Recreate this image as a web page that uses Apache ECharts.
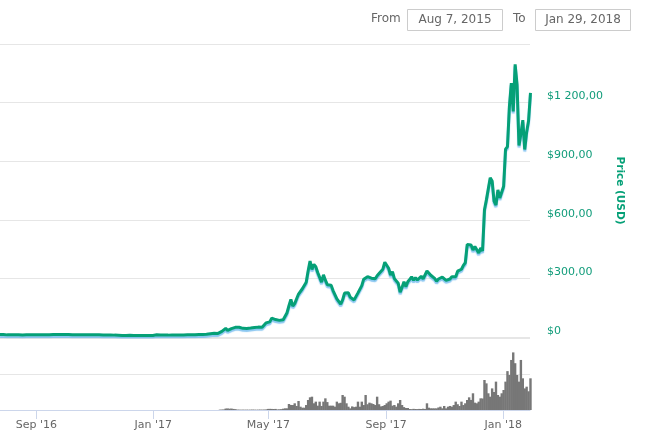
<!DOCTYPE html>
<html>
<head>
<meta charset="utf-8">
<script src="https://cdn.jsdelivr.net/npm/echarts@6/dist/echarts.min.js"></script>
<style>
html,body{margin:0;padding:0;background:#fff;}
#chart{width:645px;height:444px;}
</style>
</head>
<body>
<div id="chart"></div>
<script>
// ---- data ----
var rangeFrom = 'Aug 7, 2015';
var rangeTo = 'Jan 29, 2018';
var axisMin = [2016, 6, 25];
var axisMax = [2018, 0, 29];

var xTickDates = [[2016, 8, 1], [2017, 0, 1], [2017, 4, 1], [2017, 8, 1], [2018, 0, 1]];
var xTickLabels = ["Sep '16", "Jan '17", "May '17", "Sep '17", "Jan '18"];

var priceTickValues = [0, 300, 600, 900, 1200];
var priceTickLabels = ['$0', '$300,00', '$600,00', '$900,00', '$1 200,00'];

// price in USD, one value every 2 days starting 2016-07-24
var priceStart = [2016, 6, 24];
var priceStepDays = 2;
var priceUSD = [
12.9,12.9,12.9,12.5,10.9,10.5,11.0,10.9,12.0,11.7,11.6,11.2,10.8,10.6,11.2,11.0,11.3,11.4,11.2,11.9,
12.1,11.9,11.8,11.7,12.0,12.0,12.0,12.7,12.7,13.0,13.2,12.9,12.9,13.1,13.2,13.2,13.1,12.9,12.0,11.8,
11.8,12.0,12.0,12.6,12.0,12.0,11.6,11.4,11.5,11.1,10.9,11.0,11.0,10.9,10.6,10.4,10.0,10.0,10.0,9.6,
9.6,9.9,9.4,8.6,8.3,8.2,7.8,6.8,8.4,8.5,8.2,8.5,7.9,7.8,7.6,7.6,7.3,7.2,7.2,7.9,
8.0,8.4,11.0,10.2,10.2,10.5,9.8,9.8,9.6,10.2,10.6,10.8,10.5,10.6,10.5,10.7,10.8,11.3,11.3,11.4,
11.2,11.4,11.4,12.9,12.8,12.7,12.4,13.2,13.6,15.6,17.1,19.2,19.3,19.0,18.2,21.5,28.5,35.2,44.2,33.5,
42.5,43.0,50.6,49.5,52.0,50.0,48.6,44.4,43.2,44.1,43.7,46.0,48.0,48.3,49.9,50.6,48.3,49.9,53.2,72.2,
79.8,77.5,96.4,94.8,89.3,87.9,85.2,88.7,88.4,97.7,124.5,160,192,158,171,196,220,224,247,256,
280,338,389,346,372,360,330,323,281,318,291,268,278,265,238,236,195,200,168,190,
225,216,226,203,203,190,200,226,222,263,296,298,309,300,301,294,298,314,325,331,
347,383,388,352,317,334,299,294,275,230,254,283,258,283,295,308,291,303,292,296,
311,298,303,338,337,316,308,300,286,297,297,307,304,290,300,297,309,299,308,337,
330,347,367,380,474,471,471,445,463,470,430,456,441,651,702,696,815,799,696,675,
753,712,712,772,962,975,1180,1300,1155,1396,1292,980,1040,1110,960,1050,1107,1250
];

// trading volume (billion USD), one value every 2 days starting 2017-03-11
var volumeStart = [2017, 2, 11];
var volumeStepDays = 2;
var volumeBn = [
0.05,0.06,0.08,0.2,0.22,0.18,0.2,0.15,0.12,0.06,0.05,0.04,0.05,0.04,0.05,0.04,0.05,0.06,0.05,0.04,
0.05,0.06,0.05,0.06,0.07,0.15,0.16,0.15,0.14,0.15,0.08,0.1,0.12,0.18,0.23,0.23,0.83,0.7,0.69,0.93,
0.56,1.25,0.46,0.32,0.32,0.69,1.39,1.76,1.85,0.93,1.16,0.6,1.16,0.56,1.16,1.62,1.1,0.6,0.6,0.6,
0.46,1.16,0.93,1.0,2.08,1.85,0.93,0.46,0.23,0.5,0.4,0.46,1.16,0.46,1.16,0.69,2.08,0.8,1.02,0.93,
0.83,0.69,1.85,0.8,0.5,0.56,0.69,0.93,1.16,1.3,0.6,0.69,0.46,0.93,1.39,0.69,0.4,0.28,0.28,0.14,
0.12,0.16,0.14,0.13,0.15,0.14,0.18,0.14,0.93,0.32,0.23,0.23,0.23,0.23,0.35,0.46,0.23,0.56,0.23,0.46,
0.56,0.46,0.69,1.16,0.8,0.56,1.16,0.69,0.93,1.39,1.76,1.4,2.32,1.02,0.93,1.16,1.62,1.6,4.17,3.7,
2.32,1.85,3.0,2.5,3.94,2.08,1.85,2.32,2.78,3.94,5.4,4.86,6.95,8.0,6.5,4.86,3.94,6.95,4.4,3.0,
3.24,2.6,4.4
];

// ---- helpers ----
function dayTime(ymd, addDays) {
  return new Date(ymd[0], ymd[1], ymd[2] + (addDays || 0), 12).getTime();
}
var xTickTimes = xTickDates.map(function (d) { return new Date(d[0], d[1], d[2]).getTime(); });
var priceData = priceUSD.map(function (v, i) { return [dayTime(priceStart, i * priceStepDays), v]; });
var volumeData = volumeBn.map(function (v, i) { return [dayTime(volumeStart, i * volumeStepDays), v]; });
var xMin = new Date(axisMin[0], axisMin[1], axisMin[2]).getTime();
var xMax = new Date(axisMax[0], axisMax[1], axisMax[2]).getTime();

var GREEN = '#05a077';
var LABEL_GREEN = '#119c7a';
var FONT = 'DejaVu Sans';

var chart = echarts.init(document.getElementById('chart'), null, { renderer: 'canvas' });
chart.setOption({
  animation: false,
  backgroundColor: '#ffffff',
  textStyle: { fontFamily: FONT },
  grid: [
    { left: 0, right: 115, top: 44, bottom: 107 },
    { left: 0, right: 115, top: 338, bottom: 34 }
  ],
  xAxis: [
    {
      type: 'value', gridIndex: 0, min: xMin, max: xMax, scale: true,
      axisLine: { show: false }, axisTick: { show: false }, axisLabel: { show: false },
      splitLine: { show: false }
    },
    {
      type: 'value', gridIndex: 1, min: xMin, max: xMax, scale: true,
      axisLine: { show: true, onZero: false, lineStyle: { color: '#ccd6eb', width: 1 } },
      axisTick: { show: true, customValues: xTickTimes, length: 9, lineStyle: { color: '#ccd6eb' } },
      axisLabel: {
        show: true, customValues: xTickTimes, color: '#666666', fontSize: 11, fontFamily: FONT, margin: 10,
        showMinLabel: true, showMaxLabel: true,
        formatter: function (val) {
          var best = 0, bd = Infinity;
          for (var i = 0; i < xTickTimes.length; i++) {
            var d = Math.abs(xTickTimes[i] - val);
            if (d < bd) { bd = d; best = i; }
          }
          return xTickLabels[best];
        }
      },
      splitLine: { show: false }
    }
  ],
  yAxis: [
    {
      type: 'value', gridIndex: 0, position: 'right',
      min: 0, max: 1500, interval: 300,
      axisLine: { show: false }, axisTick: { show: false },
      splitLine: { show: true, lineStyle: { color: '#e6e6e6', width: 1 } },
      axisLabel: {
        show: true, showMaxLabel: false, color: LABEL_GREEN, fontSize: 11, fontFamily: FONT,
        margin: 17, align: 'left', verticalAlign: 'bottom', lineHeight: 12,
        formatter: function (v) {
          var idx = priceTickValues.indexOf(v);
          return idx >= 0 ? priceTickLabels[idx] : '';
        }
      },
      name: 'Price (USD)', nameLocation: 'middle', nameRotate: -90, nameGap: 79,
      nameTextStyle: { color: GREEN, fontWeight: 'bold', fontSize: 10.5, fontFamily: FONT }
    },
    {
      type: 'value', gridIndex: 1, position: 'right',
      min: 0, max: 10, interval: 5,
      axisLine: { show: false }, axisTick: { show: false }, axisLabel: { show: false },
      splitLine: { show: true, lineStyle: { color: '#e6e6e6', width: 1 } }
    }
  ],
  series: [
    {
      type: 'line', name: 'Price', xAxisIndex: 0, yAxisIndex: 0,
      data: priceData, showSymbol: false, symbol: 'none', clip: true,
      lineStyle: {
        color: GREEN, width: 3,
        shadowColor: 'rgba(90,175,235,0.7)', shadowOffsetY: 2, shadowBlur: 1
      },
      z: 3
    },
    {
      type: 'bar', name: 'Volume', xAxisIndex: 1, yAxisIndex: 1,
      data: volumeData, barWidth: 2.4, itemStyle: { color: '#777777' }, z: 2
    }
  ],
  graphic: [
    { type: 'text', left: 371, top: 13, style: { text: 'From', fill: '#666666', font: '12px "DejaVu Sans"' } },
    { type: 'rect', shape: { x: 407.5, y: 9.5, width: 95, height: 21 }, style: { fill: '#ffffff', stroke: '#cccccc', lineWidth: 1 } },
    { type: 'text', x: 455, y: 20, style: { text: rangeFrom, fill: '#666666', font: '12px "DejaVu Sans"', align: 'center', verticalAlign: 'middle' } },
    { type: 'text', left: 513, top: 13, style: { text: 'To', fill: '#666666', font: '12px "DejaVu Sans"' } },
    { type: 'rect', shape: { x: 535.5, y: 9.5, width: 95, height: 21 }, style: { fill: '#ffffff', stroke: '#cccccc', lineWidth: 1 } },
    { type: 'text', x: 583, y: 20, style: { text: rangeTo, fill: '#666666', font: '12px "DejaVu Sans"', align: 'center', verticalAlign: 'middle' } }
  ]
});
</script>
</body>
</html>
